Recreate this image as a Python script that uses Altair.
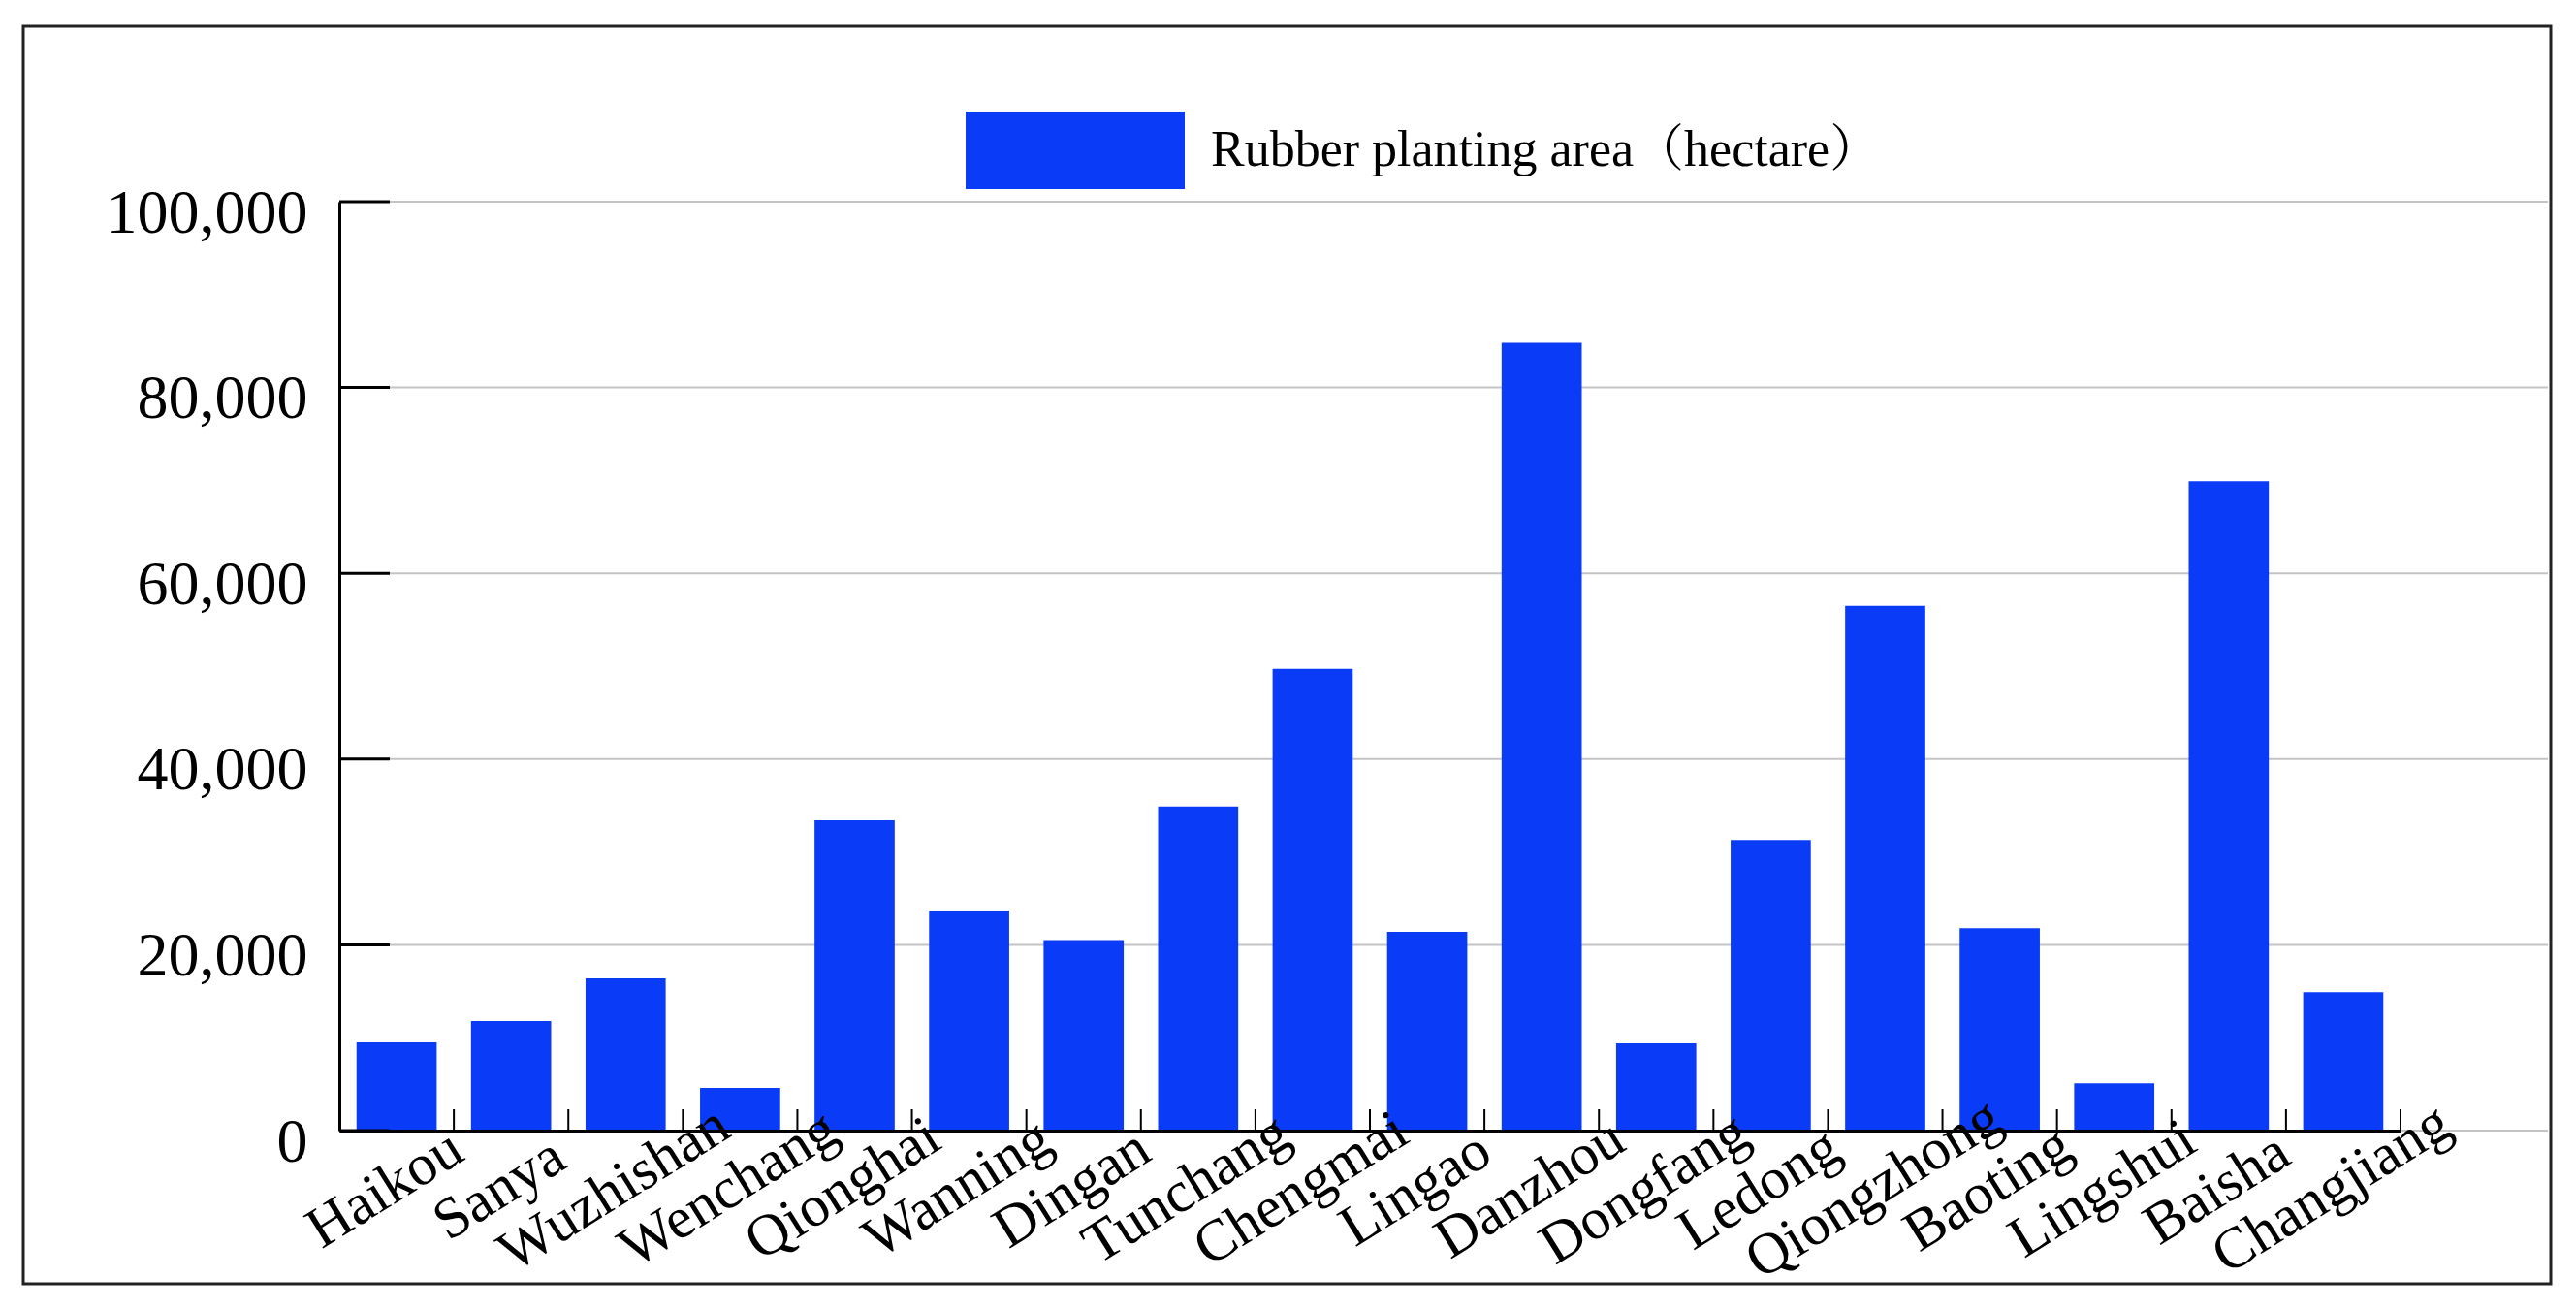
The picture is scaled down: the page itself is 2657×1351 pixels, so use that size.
import altair as alt
import pandas as pd

# ---- data ----
cities = ["Haikou", "Sanya", "Wuzhishan", "Wenchang", "Qionghai", "Wanning",
          "Dingan", "Tunchang", "Chengmai", "Lingao", "Danzhou", "Dongfang",
          "Ledong", "Qiongzhong", "Baoting", "Lingshui", "Baisha", "Changjiang"]
areas = [9500, 11800, 16400, 4600, 33400, 23700,
         20500, 34900, 49700, 21400, 84800, 9400,
         31300, 56500, 21800, 5100, 69900, 14900]
series_name = "Rubber planting area（hectare）"
y_ticks = [0, 20000, 40000, 60000, 80000, 100000]

# ---- styling ----
W, H = 2126, 958
BLUE = "#0A3BF7"
FONT = "Liberation Serif, Noto Serif CJK SC, Noto Sans CJK SC"
PAD_IN, PAD_OUT = 0.3, 0.15
STEP = W / (len(cities) - PAD_IN + 2 * PAD_OUT)

bars_df = pd.DataFrame({"city": cities, "area": areas, "series": [series_name] * len(cities)})
ticks_df = pd.DataFrame({"tick": y_ticks})
cat_df = pd.DataFrame({"city": cities})
one_df = pd.DataFrame({"k": [0]})

yscale = alt.Scale(domain=[0, 100000], nice=False, zero=True)
xscale = alt.Scale(domain=cities, paddingInner=PAD_IN, paddingOuter=PAD_OUT)

yax = alt.Axis(values=y_ticks, format=",d", ticks=False, grid=False,
               domainColor="black", domainWidth=3,
               labelFont=FONT, labelFontSize=64, labelColor="black",
               labelPadding=33, labelOffset=12, labelLimit=0, title=None)
xax = alt.Axis(ticks=False, grid=False, domainColor="black", domainWidth=3,
               labelFont=FONT, labelFontSize=60, labelColor="black",
               labelAngle=-32, labelAlign="center", labelBaseline="middle",
               labelPadding=60, labelOffset=-12, labelOverlap=False,
               labelLimit=0, title=None, zindex=1)

grid = alt.Chart(ticks_df).mark_rule(color="#c4c4c4", strokeWidth=2).encode(
    y=alt.Y("tick:Q", scale=yscale, axis=yax),
    x=alt.value(0), x2=alt.value(2278))

bars = alt.Chart(bars_df).mark_bar(color=BLUE).encode(
    x=alt.X("city:N", sort=cities, scale=xscale, axis=xax),
    y=alt.Y("area:Q", scale=yscale, axis=yax),
    color=alt.Color("series:N", scale=alt.Scale(range=[BLUE]),
                    legend=alt.Legend(orient="none", legendX=646, legendY=-166,
                                      title=None, padding=0,
                                      symbolType="M-1,-0.354L1,-0.354L1,0.354L-1,0.354Z",
                                      symbolSize=226 * 226, symbolStrokeWidth=0,
                                      symbolOpacity=1, symbolFillColor=BLUE,
                                      labelFont=FONT, labelFontSize=52,
                                      labelColor="black", labelOffset=27,
                                      labelLimit=0)))

yticks = alt.Chart(ticks_df).mark_rule(color="black", strokeWidth=3).encode(
    y=alt.Y("tick:Q", scale=yscale, axis=yax),
    x=alt.value(0), x2=alt.value(52))

xticks = alt.Chart(cat_df).mark_rule(color="black", strokeWidth=2,
                                     xOffset=-PAD_IN * STEP / 2).encode(
    x=alt.X("city:N", sort=cities, scale=xscale, axis=xax, bandPosition=0),
    y=alt.value(H - 22), y2=alt.value(H))

xtick_end = alt.Chart(one_df).mark_rule(color="black", strokeWidth=2).encode(
    x=alt.value(W), y=alt.value(H - 22), y2=alt.value(H))

frame = alt.Chart(one_df).mark_rect(fill="white", fillOpacity=0,
                                    stroke="#222222", strokeWidth=3).encode(
    x=alt.value(-326), x2=alt.value(2281), y=alt.value(-181), y2=alt.value(1116))

chart = alt.layer(grid, bars, yticks, xticks, xtick_end, frame).properties(
    width=W, height=H,
    autosize=alt.AutoSizeParams(type="none"),
    padding={"left": 342, "top": 200, "right": 164, "bottom": 170},
    background="white",
).configure_view(stroke=None)

chart.save("out.html", embed_options={"renderer": "svg", "actions": False})
